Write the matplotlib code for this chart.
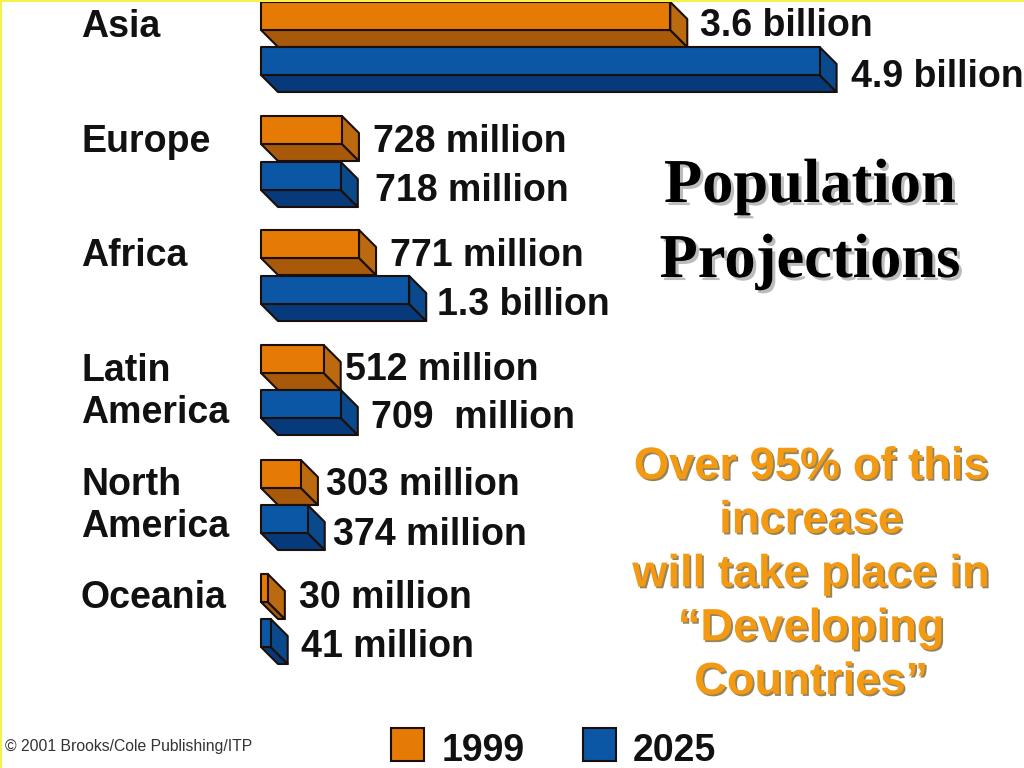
import matplotlib
matplotlib.use("Agg")
import matplotlib.pyplot as plt
import matplotlib.patheffects as pe
from matplotlib.patches import Polygon, Rectangle

regions = ["Asia", "Europe", "Africa", "Latin\nAmerica", "North\nAmerica", "Oceania"]
# bar lengths as drawn, in millions (small ones are drawn a bit long)
drawn_1999 = [3590, 710, 860, 550, 350, 60]
drawn_2025 = [4900, 700, 1300, 700, 410, 85]
labels_1999 = ["3.6 billion", "728 million", "771 million", "512 million", "303 million", "30 million"]
labels_2025 = ["4.9 billion", "718 million", "1.3 billion", "709  million", "374 million", "41 million"]
note = "Over 95% of this\nincrease\nwill take place in\n“Developing\nCountries”"

# layout, in pixels of the 1024x768 picture
x0 = 261
scale = 0.114
front_h = 28
dx, dy = 17, 17
top_1999 = [2, 116, 230, 345, 460, 574]
top_2025 = [47, 162, 276, 390, 505, 619]
label_x_1999 = [700, 373, 390, 345, 326, 299]
label_x_2025 = [851, 375, 437, 371, 333, 301]
label_y_1999 = [26, 142, 256, 370, 485, 598]
label_y_2025 = [77, 191, 305, 418, 535, 647]
region_y = [27, 142, 256, 392, 506, 598]

orange = ("#E57A05", "#A85A0A", "#BC6A10")
blue = ("#0B57A5", "#063A7A", "#0A4A8C")
edge = "#1A0F0A"

fig = plt.figure(figsize=(10.24, 7.68), dpi=100, facecolor="white")
ax = fig.add_axes([0, 0, 1, 1])
ax.set_xlim(0, 1024)
ax.set_ylim(768, 0)
ax.axis("off")

font = "Liberation Sans"


def draw_bar(value, top, colors):
    right = x0 + value * scale
    bottom = top + front_h
    faces = [
        (colors[1], [(x0, bottom), (right, bottom), (right + dx, bottom + dy), (x0 + dx, bottom + dy)]),
        (colors[2], [(right, top), (right + dx, top + dy), (right + dx, bottom + dy), (right, bottom)]),
        (colors[0], [(x0, top), (right, top), (right, bottom), (x0, bottom)]),
    ]
    for color, pts in faces:
        ax.add_patch(Polygon(pts, closed=True, facecolor=color, edgecolor=edge, linewidth=1.5, joinstyle="round"))


for i, name in enumerate(regions):
    draw_bar(drawn_1999[i], top_1999[i], orange)
    draw_bar(drawn_2025[i], top_2025[i], blue)
    ax.text(81, region_y[i], name, family=font, weight="bold", fontsize=27, color="#111111",
            va="center", ha="left", linespacing=1.19)
    ax.text(label_x_1999[i], label_y_1999[i], labels_1999[i], family=font, weight="bold", fontsize=27,
            color="#111111", va="center", ha="left")
    ax.text(label_x_2025[i], label_y_2025[i], labels_2025[i], family=font, weight="bold", fontsize=27,
            color="#111111", va="center", ha="left")

shadow = [pe.withSimplePatchShadow(offset=(2.2, -2.2), shadow_rgbFace="#B5B5B5", alpha=0.9)]
ax.text(810, 187, "Population", family="Liberation Serif", weight="bold", fontsize=45, color="black",
        ha="center", va="center", path_effects=shadow)
ax.text(810, 262, "Projections", family="Liberation Serif", weight="bold", fontsize=45, color="black",
        ha="center", va="center", path_effects=shadow)

ax.text(811, 575, note, family=font, weight="bold", fontsize=32.6, color="#F49A12", ha="center", va="center",
        linespacing=1.40, multialignment="center",
        path_effects=[pe.withSimplePatchShadow(offset=(1.3, -1.3), shadow_rgbFace="#7A6535", alpha=0.8)])

ax.text(5, 746, "© 2001 Brooks/Cole Publishing/ITP", family=font, fontsize=11.3, color="#333333",
        va="center", ha="left")

ax.add_patch(Rectangle((391, 728), 33, 33, facecolor=orange[0], edgecolor=edge, linewidth=1.5))
ax.add_patch(Rectangle((583, 728), 33, 33, facecolor=blue[0], edgecolor=edge, linewidth=1.5))
ax.text(442, 751, "1999", family=font, weight="bold", fontsize=27, color="#111111", va="center", ha="left")
ax.text(633, 751, "2025", family=font, weight="bold", fontsize=27, color="#111111", va="center", ha="left")

# thin yellow slide border on the top and left edges
ax.add_patch(Rectangle((0, 0), 1024, 1.5, facecolor="#F7F24A", edgecolor="none"))
ax.add_patch(Rectangle((0, 0), 2, 768, facecolor="#F7F24A", edgecolor="none"))

fig.savefig("out.png", dpi=100, facecolor=fig.get_facecolor())
